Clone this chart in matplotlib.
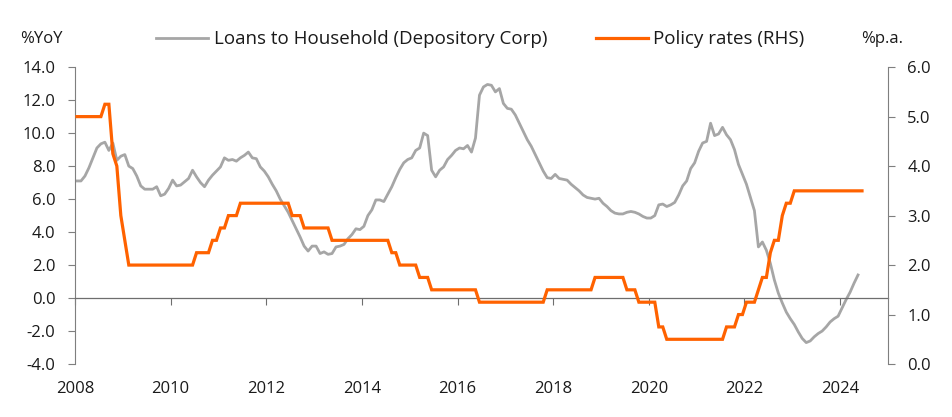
import numpy as np
import matplotlib
matplotlib.use('Agg')
import matplotlib.pyplot as plt
from matplotlib.lines import Line2D

plt.rcParams['font.family'] = ['Open Sans', 'DejaVu Sans']

# monthly data, Jan 2008 onwards
start_year = 2008
loans_yoy = [
    7.1, 7.1, 7.4, 7.9, 8.5, 9.1, 9.35, 9.45, 8.95, 9.4, 8.35, 8.6,      # 2008
    8.7, 8.0, 7.85, 7.4, 6.8, 6.6, 6.6, 6.6, 6.75, 6.2, 6.3, 6.65,      # 2009
    7.15, 6.8, 6.85, 7.05, 7.25, 7.75, 7.35, 7.0, 6.75, 7.15, 7.45, 7.7,  # 2010
    7.95, 8.5, 8.35, 8.4, 8.3, 8.5, 8.65, 8.85, 8.5, 8.45, 7.95, 7.7,   # 2011
    7.35, 6.9, 6.5, 6.0, 5.6, 5.2, 4.7, 4.2, 3.7, 3.15, 2.85, 3.15,     # 2012
    3.15, 2.7, 2.8, 2.65, 2.7, 3.1, 3.15, 3.25, 3.6, 3.85, 4.2, 4.15,   # 2013
    4.35, 5.0, 5.35, 5.95, 5.95, 5.85, 6.3, 6.75, 7.3, 7.8, 8.2, 8.4,   # 2014
    8.5, 8.95, 9.1, 10.0, 9.85, 7.75, 7.35, 7.75, 7.95, 8.4, 8.65, 8.95,  # 2015
    9.1, 9.05, 9.25, 8.85, 9.7, 12.3, 12.8, 12.95, 12.9, 12.5, 12.7, 11.8,  # 2016
    11.5, 11.45, 11.1, 10.6, 10.1, 9.6, 9.2, 8.7, 8.2, 7.7, 7.3, 7.25,  # 2017
    7.5, 7.25, 7.2, 7.15, 6.9, 6.7, 6.5, 6.25, 6.1, 6.05, 6.0, 6.05,    # 2018
    5.75, 5.55, 5.3, 5.15, 5.1, 5.1, 5.2, 5.25, 5.2, 5.1, 4.95, 4.85,   # 2019
    4.85, 5.0, 5.65, 5.7, 5.55, 5.65, 5.8, 6.25, 6.8, 7.1, 7.85, 8.2,   # 2020
    8.9, 9.4, 9.5, 10.6, 9.85, 9.95, 10.35, 9.9, 9.6, 9.0, 8.1, 7.5,    # 2021
    6.9, 6.1, 5.3, 3.1, 3.4, 2.9, 2.1, 1.1, 0.3, -0.3, -0.85, -1.25,    # 2022
    -1.6, -2.05, -2.45, -2.7, -2.6, -2.35, -2.15, -2.0, -1.75, -1.45, -1.25, -1.1,  # 2023
    -0.6, -0.1, 0.35, 0.9, 1.4,                                          # 2024
]
policy_rate = [
    5.0, 5.0, 5.0, 5.0, 5.0, 5.0, 5.0, 5.25, 5.25, 4.25, 4.0, 3.0,      # 2008
    2.5, 2.0, 2.0, 2.0, 2.0, 2.0, 2.0, 2.0, 2.0, 2.0, 2.0, 2.0,         # 2009
    2.0, 2.0, 2.0, 2.0, 2.0, 2.0, 2.25, 2.25, 2.25, 2.25, 2.5, 2.5,     # 2010
    2.75, 2.75, 3.0, 3.0, 3.0, 3.25, 3.25, 3.25, 3.25, 3.25, 3.25, 3.25,  # 2011
    3.25, 3.25, 3.25, 3.25, 3.25, 3.25, 3.0, 3.0, 3.0, 2.75, 2.75, 2.75,  # 2012
    2.75, 2.75, 2.75, 2.75, 2.5, 2.5, 2.5, 2.5, 2.5, 2.5, 2.5, 2.5,     # 2013
    2.5, 2.5, 2.5, 2.5, 2.5, 2.5, 2.5, 2.25, 2.25, 2.0, 2.0, 2.0,       # 2014
    2.0, 2.0, 1.75, 1.75, 1.75, 1.5, 1.5, 1.5, 1.5, 1.5, 1.5, 1.5,      # 2015
    1.5, 1.5, 1.5, 1.5, 1.5, 1.25, 1.25, 1.25, 1.25, 1.25, 1.25, 1.25,  # 2016
    1.25, 1.25, 1.25, 1.25, 1.25, 1.25, 1.25, 1.25, 1.25, 1.25, 1.5, 1.5,  # 2017
    1.5, 1.5, 1.5, 1.5, 1.5, 1.5, 1.5, 1.5, 1.5, 1.5, 1.75, 1.75,       # 2018
    1.75, 1.75, 1.75, 1.75, 1.75, 1.75, 1.5, 1.5, 1.5, 1.25, 1.25, 1.25,  # 2019
    1.25, 1.25, 0.75, 0.75, 0.5, 0.5, 0.5, 0.5, 0.5, 0.5, 0.5, 0.5,     # 2020
    0.5, 0.5, 0.5, 0.5, 0.5, 0.5, 0.5, 0.75, 0.75, 0.75, 1.0, 1.0,      # 2021
    1.25, 1.25, 1.25, 1.5, 1.75, 1.75, 2.25, 2.5, 2.5, 3.0, 3.25, 3.25,  # 2022
    3.5, 3.5, 3.5, 3.5, 3.5, 3.5, 3.5, 3.5, 3.5, 3.5, 3.5, 3.5,         # 2023
    3.5, 3.5, 3.5, 3.5, 3.5, 3.5,                                        # 2024
]
year_ticks = [2008, 2010, 2012, 2014, 2016, 2018, 2020, 2022, 2024]
lhs_ticks = [-4, -2, 0, 2, 4, 6, 8, 10, 12, 14]
rhs_ticks = [0, 1, 2, 3, 4, 5, 6]

# place each month at its middle
loans_x = start_year + (np.arange(len(loans_yoy)) + 0.5) / 12
policy_x = start_year + (np.arange(len(policy_rate)) + 0.5) / 12

grey = '#a6a6a6'
orange = '#ff6200'
axis_col = '#7f7f7f'
txt = '#1a1a1a'
fs = 12

fig = plt.figure(figsize=(9.53, 4.17), dpi=100)
ax = fig.add_axes([0.0787, 0.127, 0.853, 0.712])
ax2 = ax.twinx()

ax.plot(loans_x, loans_yoy, color=grey, lw=2.0, solid_joinstyle='round')
ax2.plot(policy_x, policy_rate, color=orange, lw=2.3, solid_joinstyle='miter')

ax.set_xlim(2008, 2025)
ax.set_ylim(-4, 14)
ax2.set_ylim(0, 6)

ax.set_yticks(lhs_ticks)
ax.set_yticklabels(['%.1f' % v for v in lhs_ticks])
ax2.set_yticks(rhs_ticks)
ax2.set_yticklabels(['%.1f' % v for v in rhs_ticks])

for a in (ax, ax2):
    a.spines['top'].set_visible(False)
    a.patch.set_visible(False)
ax.spines['right'].set_visible(False)
ax2.spines['left'].set_visible(False)
ax2.spines['bottom'].set_visible(False)
ax.spines['left'].set_color(axis_col)
ax2.spines['right'].set_color(axis_col)
ax.spines['bottom'].set_position(('data', 0))
ax.spines['bottom'].set_color('#6e6e6e')
ax.spines['bottom'].set_linewidth(0.9)

ax.tick_params(axis='y', direction='out', length=5, width=0.8, color=axis_col,
               labelsize=fs, labelcolor=txt, pad=9)
ax2.tick_params(axis='y', direction='out', length=5, width=0.8, color=axis_col,
                labelsize=fs, labelcolor=txt, pad=9)
ax.set_xticks(year_ticks)
ax.tick_params(axis='x', direction='out', length=5, width=0.8, color='#6e6e6e',
               labelbottom=False)

# year labels sit below the plot, not on the zero line
sec = ax.secondary_xaxis('bottom')
sec.set_xticks(year_ticks)
sec.set_xticklabels([str(y) for y in year_ticks])
sec.spines['bottom'].set_visible(False)
sec.tick_params(axis='x', length=0, labelsize=fs, labelcolor=txt, pad=12)

fig.text(0.021, 0.907, '%YoY', fontsize=fs, color=txt, va='center', ha='left')
fig.text(0.904, 0.907, '%p.a.', fontsize=fs, color=txt, va='center', ha='left')

handles = [Line2D([], [], color=grey, lw=2.0), Line2D([], [], color=orange, lw=2.3)]
fig.legend(handles, ['Loans to Household (Depository Corp)', 'Policy rates (RHS)'],
           loc='center', bbox_to_anchor=(0.504, 0.906), ncol=2, frameon=False,
           fontsize=13.5, handlelength=2.8, handletextpad=0.27, columnspacing=2.6,
           labelcolor=txt)

fig.savefig('out.png', dpi=100)
